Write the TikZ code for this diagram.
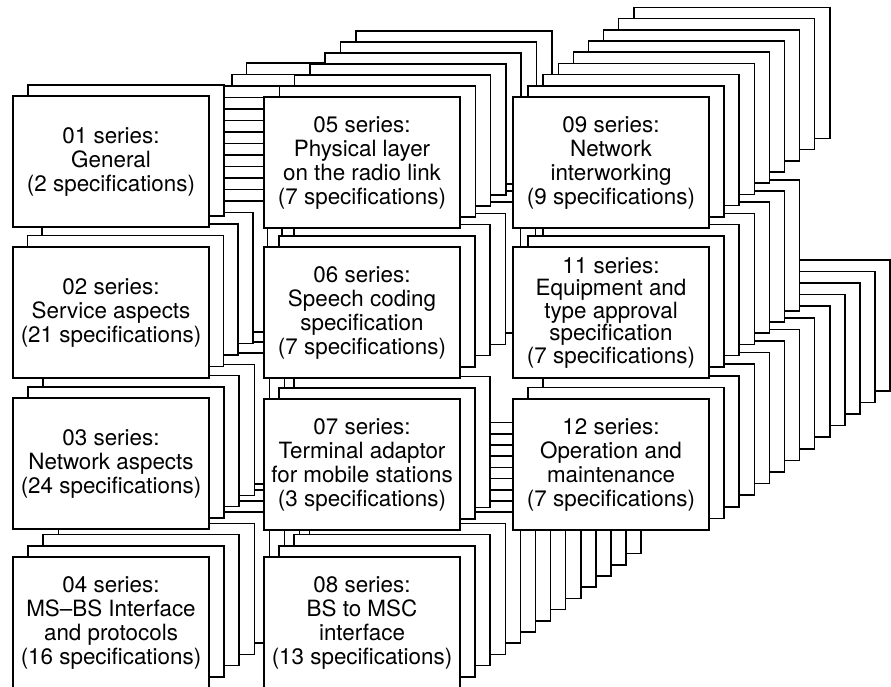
\documentclass[tikz,border=0pt]{standalone}
\usepackage{fontspec}
\setmainfont{TeX Gyre Heros}
\tikzset{
  sheet/.style={draw=black, fill=white, line width=1.5pt},
  frontbox/.style={draw=black, fill=white, line width=1.5pt,
    minimum width=196pt, minimum height=131pt, inner sep=0pt, outer sep=0pt,
    align=center, anchor=north west, font=\fontsize{22.4}{24}\selectfont},
  tightbox/.style={frontbox, font=\fontsize{22.4}{22.5}\selectfont}
}
\begin{document}
\begin{tikzpicture}[x=1pt,y=-1pt]
\useasboundingbox (0,0) rectangle (891,686);
\clip (0,0) rectangle (891,686);
% background sheets, deepest layer first
\foreach \k in {23,22,...,1}{
  \foreach \sx/\sy/\sn/\ddx/\ddy in {13/96/1/15.1/11.2, 13/247/16/14.6/11.5,
      13/398/23/15.1/11.2, 13/557/15/15.1/11.2, 264/97/6/15.3/11.0,
      264/247/6/15.1/11.2, 264/399/2/15.1/11.2, 264/557/12/15.1/11.2,
      513/97/8/15.1/11.2, 513/247/6/15.1/11.2, 513/399/12/15.1/11.6}{
    \ifnum\sn<\k\relax\else
      \draw[sheet] ({\sx+\k*\ddx},{\sy-\k*\ddy}) rectangle ++(196,131);
    \fi
  }
}
% front sheets
\node[frontbox] (s01) at (13,96)  {01 series:\\General\\(2 specifications)};
\node[frontbox] (s02) at (13,247) {02 series:\\Service aspects\\(21 specifications)};
\node[frontbox] (s03) at (13,398) {03 series:\\Network aspects\\(24 specifications)};
\node[frontbox] (s04) at (13,557) {04 series:\\MS–BS Interface\\and protocols\\(16 specifications)};
\node[frontbox] (s05) at (264,97)  {05 series:\\Physical layer\\on the radio link\\(7 specifications)};
\node[frontbox] (s06) at (264,247) {06 series:\\Speech coding\\specification\\(7 specifications)};
\node[frontbox] (s07) at (264,399) {07 series:\\Terminal adaptor\\for mobile stations\\(3 specifications)};
\node[frontbox] (s08) at (264,557) {08 series:\\BS to MSC\\interface\\(13 specifications)};
\node[frontbox] (s09) at (513,97)  {09 series:\\Network\\interworking\\(9 specifications)};
\node[tightbox] (s11) at (513,247) {11 series:\\Equipment and\\type approval\\specification\\(7 specifications)};
\node[frontbox] (s12) at (513,399) {12 series:\\Operation and\\maintenance\\(7 specifications)};
\end{tikzpicture}
\end{document}
